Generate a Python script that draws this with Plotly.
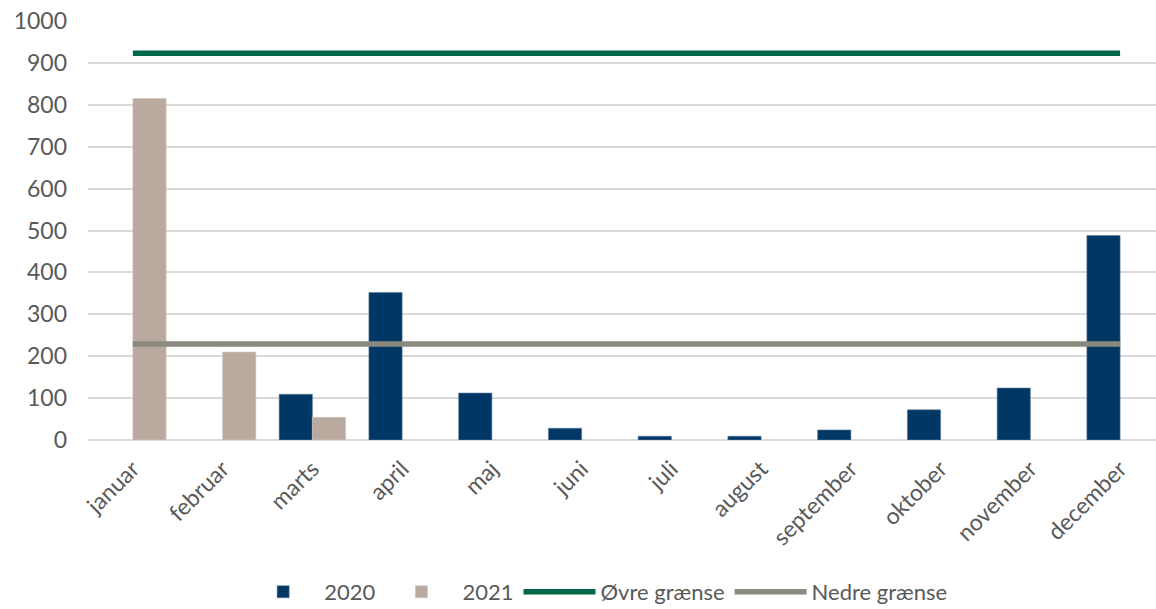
import plotly.graph_objects as go

months = ["januar", "februar", "marts", "april", "maj", "juni", "juli",
          "august", "september", "oktober", "november", "december"]
v2020 = [None, None, 109, 352, 112, 28, 9, 9, 24, 72, 124, 488]
v2021 = [815, 210, 54, None, None, None, None, None, None, None, None, None]
upper = [923] * 12
lower = [229] * 12

C2020 = "#003764"
C2021 = "#BAA99F"
CUP = "#00664A"
CLOW = "#8A8A7E"
TXT = "#595959"
FONT = "Lato"

fig = go.Figure()
fig.add_bar(x=months, y=v2020, name="2020", marker=dict(color=C2020, line=dict(color="#5a7a9a", width=0.6)))
fig.add_bar(x=months, y=v2021, name="2021", marker=dict(color=C2021, line=dict(color="#d0c4bd", width=0.6)))
fig.add_scatter(x=months, y=upper, name="Øvre grænse", mode="lines",
                line=dict(color=CUP, width=5.5))
fig.add_scatter(x=months, y=lower, name="Nedre grænse", mode="lines",
                line=dict(color=CLOW, width=5.5))

fig.update_layout(
    width=1156, height=609,
    margin=dict(l=88, r=0, t=21, b=169),
    paper_bgcolor="white", plot_bgcolor="white",
    font=dict(family=FONT, color=TXT, size=23),
    barmode="group", bargap=0.26, bargroupgap=0,
    showlegend=True,
    legend=dict(orientation="h", x=0.517, xanchor="center", xref="container",
                y=0.028, yanchor="middle", yref="container",
                font=dict(size=22, color=TXT, family=FONT),
                itemwidth=72, traceorder="normal"),
)
fig.update_xaxes(range=[-0.5, 11.4], tickangle=-45, tickfont=dict(size=23, color=TXT),
                 showgrid=False, showline=False, zeroline=False, ticks="",
                 ticklabelstandoff=10)
fig.update_yaxes(range=[0, 1000], dtick=100, tickfont=dict(size=23, color=TXT),
                 showgrid=True, gridcolor="#D9D9D9", gridwidth=2,
                 zeroline=True, zerolinecolor="#D9D9D9", zerolinewidth=2,
                 ticklabelstandoff=20, showline=False)

fig.write_html("out.html")
